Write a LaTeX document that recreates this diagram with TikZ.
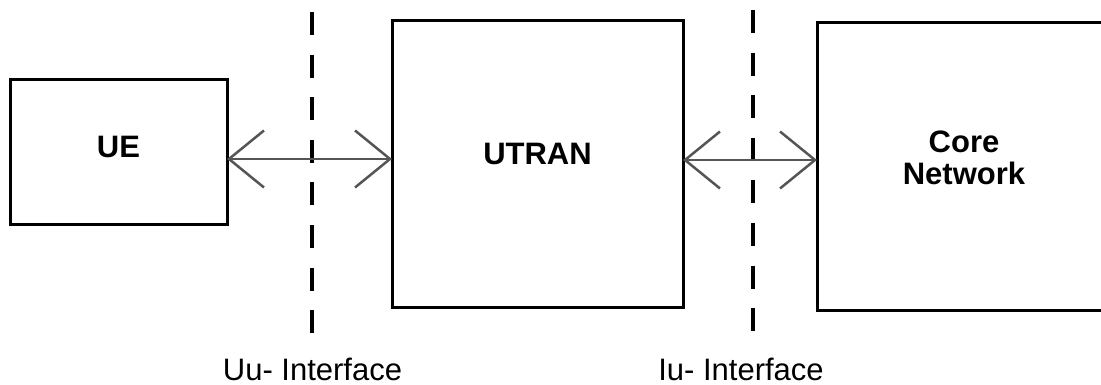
\documentclass[tikz,border=0pt]{standalone}
\usepackage{fontspec}
\setmainfont{Liberation Sans}
\usetikzlibrary{arrows.meta}
\definecolor{linkgray}{RGB}{85,85,85}
\tikzset{openv/.tip={Straight Barb[length=35pt,width=57pt,line width=2.5pt]}}
\begin{document}
\begin{tikzpicture}[x=1pt,y=-1pt,
  block/.style={draw=black, line width=3pt, inner sep=0pt, outer sep=0pt},
  blocktext/.style={font=\bfseries\fontsize{31}{32}\selectfont, inner sep=0pt, align=center},
  iflabel/.style={font=\fontsize{31}{31}\selectfont, anchor=base, inner sep=0pt},
  boundary/.style={line width=4pt, dash pattern=on 23pt off 19.6pt},
  link/.style={draw=linkgray, line width=2pt, {openv}-{openv}}]
  \useasboundingbox (0,0) rectangle (1101,385);
  \clip (0,0) rectangle (1101,385);
  \fill[white] (0,0) rectangle (1101,385);

  % blocks
  \node[block, minimum width=217pt, minimum height=144pt] (ue)    at (118.5,152) {};
  \node[block, minimum width=291pt, minimum height=286pt] (utran) at (537.5,164) {};
  \node[block, minimum width=292pt, minimum height=287pt] (core)  at (963,166.5) {};

  % block titles
  \node[blocktext, anchor=base] (uetext)    at (118.5,158) {UE};
  \node[blocktext, anchor=base] (utrantext) at (537.5,165) {UTRAN};
  \node[blocktext, anchor=center] (coretext) at (964,158) {Core\\Network};

  % interface boundaries
  \coordinate (uutop) at (312,12);
  \coordinate (uubot) at (312,336);
  \coordinate (iutop) at (753,10);
  \coordinate (iubot) at (753,334);
  \draw[boundary] (uutop) -- (uubot);
  \draw[boundary] (iutop) -- (iubot);

  % links across the interfaces
  \coordinate (uuy) at (0,159);
  \coordinate (iuy) at (0,160);
  \draw[link] (ue.east |- uuy) -- (utran.west |- uuy);
  \draw[link] (utran.east |- iuy) -- (core.west |- iuy);

  % interface names
  \node[iflabel] (uulabel) at (312.5,380) {Uu- Interface};
  \node[iflabel] (iulabel) at (741,380.5) {Iu- Interface};
\end{tikzpicture}
\end{document}
